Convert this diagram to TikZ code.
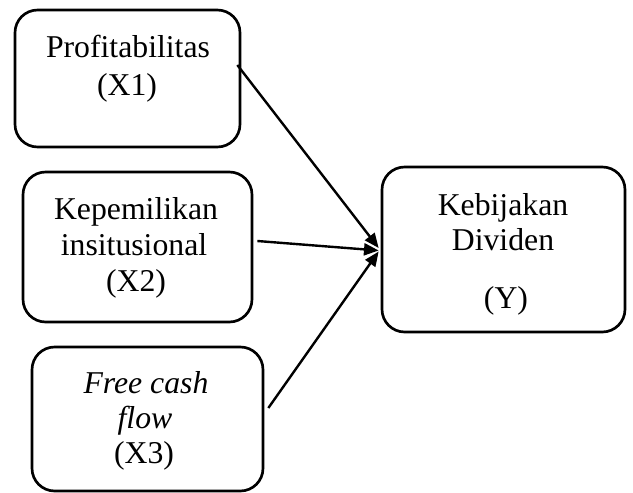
\documentclass[tikz,border=0pt]{standalone}
\usepackage{fontspec}
\setmainfont{Liberation Serif}
\usetikzlibrary{arrows.meta,calc}
\begin{document}
\begin{tikzpicture}[x=0.75pt,y=-0.75pt,
  box/.style={draw=black,line width=2pt,rounded corners=17pt,minimum width=#1,inner sep=0pt},
  lbl/.style={anchor=base,inner sep=0pt,font=\fontsize{23.8}{29}\selectfont},
  arr/.style={line width=1.8pt,-{Triangle[length=11pt,width=9pt]}}]
\useasboundingbox (0,0) rectangle (633,493);
% boxes
\node[box=168.75pt,minimum height=102.75pt] (X1) at (127.5,78.5) {};
\node[box=171.75pt,minimum height=112.5pt] (X2) at (137.5,247) {};
\node[box=173.25pt,minimum height=108pt] (X3) at (147.5,419) {};
\node[box=182.25pt,minimum height=123.75pt] (Y) at (503.5,249.5) {};
% labels
\node[lbl] (t1a) at (128,57) {Profitabilitas};
\node[lbl] (t1b) at (127,95) {(X1)};
\node[lbl] (t2a) at (136,219) {Kepemilikan};
\node[lbl] (t2b) at (134,255) {insitusional};
\node[lbl] (t2c) at (136,291) {(X2)};
\node[lbl] (t3a) at (146,393) {\itshape Free cash};
\node[lbl] (t3b) at (145,428) {\itshape flow};
\node[lbl] (t3c) at (144,463) {(X3)};
\node[lbl] (t4a) at (503,215) {Kebijakan};
\node[lbl] (t4b) at (503,250) {Dividen};
\node[lbl] (t4c) at (506,308) {(Y)};
% connectors
\draw[arr] ($(X1.east)+(-4,-13.5)$) -- ($(Y.west)+(-2,-1.5)$);
\draw[arr] ($(X2.east)+(4,-6)$) -- ($(Y.west)+(-2,1)$);
\draw[arr] ($(X3.east)+(4,-11)$) -- ($(Y.west)+(-2,2)$);
\end{tikzpicture}
\end{document}
